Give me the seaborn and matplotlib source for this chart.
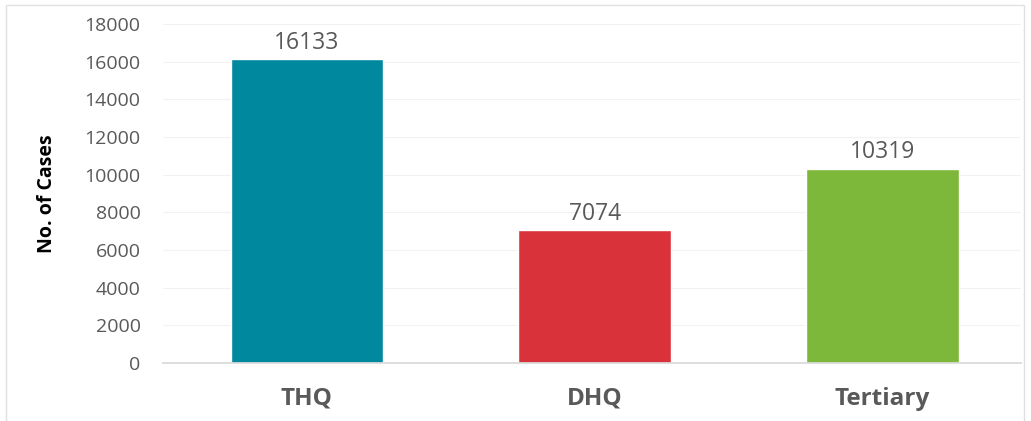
import matplotlib
matplotlib.use("Agg")
import matplotlib.pyplot as plt
import seaborn as sns
import pandas as pd
from matplotlib.patches import Rectangle

categories = ["THQ", "DHQ", "Tertiary"]
cases = [16133, 7074, 10319]
colors = ["#00889E", "#D9323A", "#7DB83A"]
yticks = [0, 2000, 4000, 6000, 8000, 10000, 12000, 14000, 16000, 18000]

sns.set_theme(style="white")
plt.rcParams["font.family"] = ["Open Sans", "DejaVu Sans"]
text_color = "#595959"

df = pd.DataFrame({"Facility": categories, "Cases": cases})

fig = plt.figure(figsize=(10.31, 4.21), dpi=100)
ax = fig.add_axes([0.158, 0.138, 0.832, 0.805])
sns.barplot(data=df, x="Facility", y="Cases", hue="Facility", palette=colors,
            width=0.53, legend=False, ax=ax, saturation=1)

ax.set_ylim(0, 18000)
ax.set_xlim(-0.5, 2.48)
ax.set_yticks(yticks)
ax.set_yticklabels([str(t) for t in yticks], fontsize=14, color=text_color)
ax.yaxis.grid(True, color="#F2F2F2", linewidth=0.8)
ax.set_axisbelow(True)
for s in ["top", "right", "left"]:
    ax.spines[s].set_visible(False)
ax.spines["bottom"].set_color("#D9D9D9")
ax.tick_params(axis="y", length=0, pad=16)
ax.tick_params(axis="x", length=0, pad=17)
for lbl in ax.get_xticklabels():
    lbl.set_fontsize(17.5)
    lbl.set_fontweight("bold")
    lbl.set_color(text_color)
ax.set_xlabel("")
ax.set_ylabel("No. of Cases", fontsize=14, fontweight="bold", color="black", labelpad=20)

for container in ax.containers:
    ax.bar_label(container, fmt="%d", padding=3, fontsize=16.5, color=text_color)

fig.patches.append(Rectangle((0.006, -0.01), 0.987, 0.998, transform=fig.transFigure,
                             fill=False, edgecolor="#E0E0E0", linewidth=1))

fig.savefig("out.png", dpi=100)
